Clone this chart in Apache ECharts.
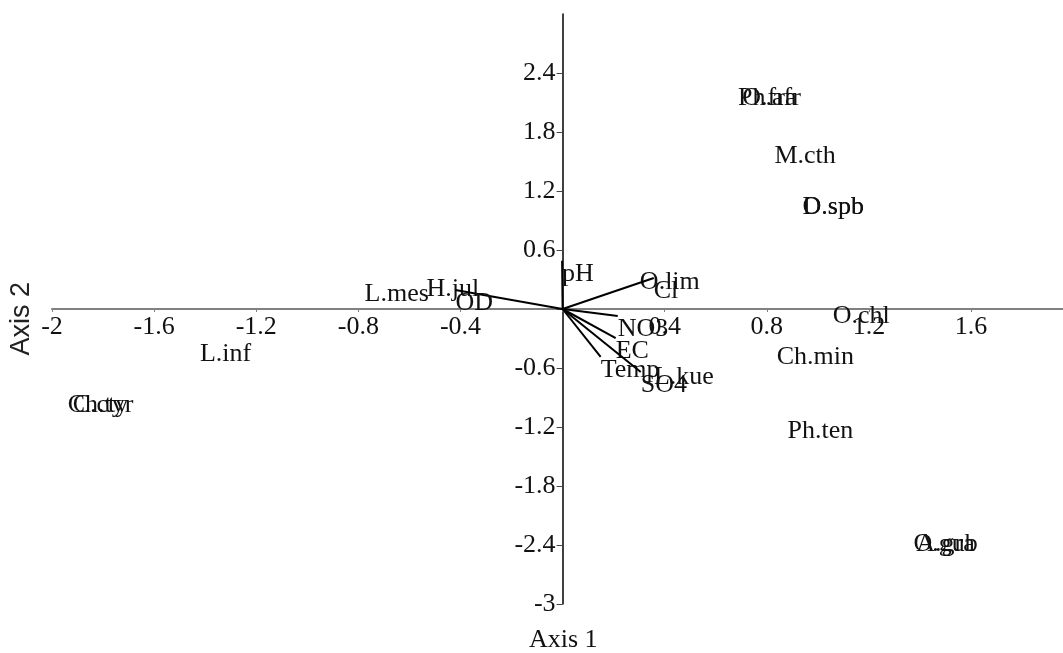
<!DOCTYPE html>
<html>
<head>
<meta charset="utf-8">
<style>
  html, body { margin: 0; padding: 0; background: #fff; }
  #chart { width: 1063px; height: 653px; }
</style>
<script src="https://cdn.jsdelivr.net/npm/echarts@6/dist/echarts.min.js"></script>
</head>
<body>
<div id="chart"></div>
<script>
// species scores (text only, centred on the point)
const speciesNames = ["Ph.afr", "O.fra", "M.cth", "D.spb", "O.spb", "O.lim", "O.chl", "Ch.min", "L.kue",
  "Ph.ten", "O.gub", "A.gra", "L.mes", "H.jul", "L.inf", "Ch.tyr", "C.cty"];
const speciesX = [0.81, 0.81, 0.95, 1.06, 1.06, 0.42, 1.17, 0.99, 0.475, 1.01, 1.5, 1.5, -0.65, -0.43, -1.32, -1.81, -1.81];
const speciesY = [2.14, 2.14, 1.55, 1.04, 1.04, 0.275, -0.07, -0.49, -0.69, -1.24, -2.39, -2.39, 0.153, 0.204, -0.46, -0.98, -0.98];

// environmental vectors (drawn from the origin)
const envNames = ["pH", "Cl", "NO3", "EC", "Temp", "SO4", "OD"];
const envX = [-0.002, 0.357, 0.216, 0.208, 0.149, 0.306, -0.42];
const envY = [0.49, 0.315, -0.071, -0.295, -0.488, -0.641, 0.193];

const serif = "'Liberation Serif', 'Times New Roman', serif";
const fontSize = 26;
const font = fontSize + "px " + serif;

const tickFmt = (v) => (Math.abs(v) < 1e-9 ? "" : String(+v.toFixed(1)));

const options = {
  animation: false,
  grid: { left: 52, right: 0, top: 14, bottom: 49 },
  xAxis: {
    type: "value",
    min: -2,
    max: 1.96,
    interval: 0.4,
    offset: -295, // puts the axis on y = 0
    splitLine: { show: false },
    axisLine: { onZero: false, lineStyle: { color: "#808080", width: 2 } },
    axisTick: { length: 3, lineStyle: { color: "#808080" } },
    axisLabel: {
      margin: 5,
      showMaxLabel: false,
      color: "#111",
      fontFamily: serif,
      fontSize: fontSize,
      formatter: tickFmt,
    },
  },
  yAxis: {
    type: "value",
    min: -3,
    max: 3,
    interval: 0.6,
    offset: -510.6, // puts the axis on x = 0
    splitLine: { show: false },
    axisLine: { onZero: false, lineStyle: { color: "#000", width: 1.5 } },
    axisTick: { length: 6, lineStyle: { color: "#444" } },
    axisLabel: {
      margin: 7,
      showMaxLabel: false,
      color: "#111",
      fontFamily: serif,
      fontSize: fontSize,
      formatter: tickFmt,
    },
  },
  graphic: [
    {
      type: "text",
      left: 8,
      top: 282,
      rotation: Math.PI / 2,
      style: { text: "Axis 2", fill: "#222", font: "27px 'Liberation Sans', Arial, sans-serif" },
    },
    {
      type: "text",
      left: 529,
      top: 627,
      style: { text: "Axis 1", fill: "#111", font: font },
    },
  ],
  series: [
    {
      name: "species",
      type: "custom",
      renderItem: function (params, api) {
        const p = api.coord([api.value(0), api.value(1)]);
        return {
          type: "text",
          x: p[0],
          y: p[1],
          style: {
            text: speciesNames[params.dataIndex],
            fill: "#111",
            font: font,
            align: "center",
            verticalAlign: "middle",
          },
        };
      },
      data: speciesNames.map((n, i) => [speciesX[i], speciesY[i]]),
    },
    {
      name: "env",
      type: "custom",
      renderItem: function (params, api) {
        const o = api.coord([0, 0]);
        const p = api.coord([api.value(0), api.value(1)]);
        return {
          type: "group",
          children: [
            {
              type: "line",
              shape: { x1: o[0], y1: o[1], x2: p[0], y2: p[1] },
              style: { stroke: "#000", lineWidth: 2 },
            },
            {
              type: "text",
              x: p[0],
              y: p[1],
              style: {
                text: envNames[params.dataIndex],
                fill: "#111",
                font: font,
                align: "left",
                verticalAlign: "top",
              },
            },
          ],
        };
      },
      data: envNames.map((n, i) => [envX[i], envY[i]]),
    },
  ],
};

document.addEventListener("DOMContentLoaded", function () {
  const chart = echarts.init(document.getElementById("chart"));
  chart.setOption(options);
});
</script>
</body>
</html>
